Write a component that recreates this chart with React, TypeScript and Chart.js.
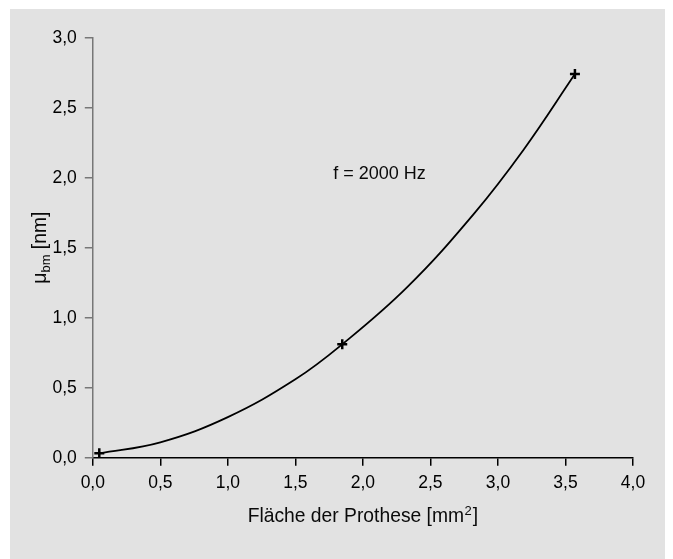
import React, { useEffect, useRef } from "react";
import { Chart, registerables } from "chart.js";

Chart.register(...registerables);

// measured points (+ markers)
const measuredX = [0.048, 1.847, 3.57];
const measuredY = [0.031, 0.81, 2.74];

// fitted curve, values
const curveX = [0.048, 0.5, 1.0, 1.5, 1.847, 2.33, 2.82, 3.19, 3.57];
const curveY = [0.031, 0.11, 0.29, 0.56, 0.81, 1.22, 1.74, 2.2, 2.74];

const xMin = 0;
const xMax = 4;
const yMin = 0;
const yMax = 3;
const tickStep = 0.5;

const xTitleMain = "Fläche der Prothese [mm";
const xTitleSup = "2";
const xTitleEnd = "]";
const yTitleMain = "μ";
const yTitleSub = "bm";
const yTitleEnd = " [nm]";
const annotationText = "f = 2000 Hz";
const annotationX = 1.78;
const annotationY = 1.99;

const FONT = "'Liberation Sans', Arial, Helvetica, sans-serif";
const fmt = (v: number) => v.toFixed(1).replace(".", ",");

const textPlugin = {
  id: "customText",
  afterDraw(chart: any) {
    const ctx = chart.ctx;
    const area = chart.chartArea;
    const xs = chart.scales.x;
    const ys = chart.scales.y;
    ctx.save();
    ctx.fillStyle = "#0a0a0a";
    ctx.textBaseline = "alphabetic";

    // x title
    const big = 19.3;
    const small = 13;
    ctx.font = `${big}px ${FONT}`;
    const w1 = ctx.measureText(xTitleMain).width;
    const w3 = ctx.measureText(xTitleEnd).width;
    ctx.font = `${small}px ${FONT}`;
    const w2 = ctx.measureText(xTitleSup).width;
    const total = w1 + w2 + w3 + 1.5;
    const cx = (area.left + area.right) / 2;
    const by = 513;
    const x0 = cx - total / 2;
    ctx.textAlign = "left";
    ctx.font = `${big}px ${FONT}`;
    ctx.fillText(xTitleMain, x0, by);
    ctx.font = `${small}px ${FONT}`;
    ctx.fillText(xTitleSup, x0 + w1 + 0.5, by - 7.5);
    ctx.font = `${big}px ${FONT}`;
    ctx.fillText(xTitleEnd, x0 + w1 + w2 + 1.5, by);

    // y title (rotated)
    ctx.font = `${big}px ${FONT}`;
    const v1 = ctx.measureText(yTitleMain).width;
    const v3 = ctx.measureText(yTitleEnd).width;
    ctx.font = `${small}px ${FONT}`;
    const v2 = ctx.measureText(yTitleSub).width;
    const vt = v1 + v2 + v3;
    const cy = (area.top + area.bottom) / 2;
    ctx.translate(36, cy);
    ctx.rotate(-Math.PI / 2);
    const s = -vt / 2;
    ctx.font = `${big}px ${FONT}`;
    ctx.fillText(yTitleMain, s, 0);
    ctx.font = `${small}px ${FONT}`;
    ctx.fillText(yTitleSub, s + v1, 4);
    ctx.font = `${big}px ${FONT}`;
    ctx.fillText(yTitleEnd, s + v1 + v2, 0);
    ctx.setTransform(1, 0, 0, 1, 0, 0);
    ctx.restore();

    // annotation
    ctx.save();
    ctx.fillStyle = "#0a0a0a";
    ctx.font = `18px ${FONT}`;
    ctx.textAlign = "left";
    ctx.textBaseline = "alphabetic";
    ctx.fillText(annotationText, xs.getPixelForValue(annotationX), ys.getPixelForValue(annotationY));
    ctx.restore();
  },
};

export default function App() {
  const ref = useRef<HTMLCanvasElement | null>(null);

  useEffect(() => {
    if (!ref.current) return;
    const chart = new Chart(ref.current, {
      type: "scatter",
      data: {
        datasets: [
          {
            type: "line",
            data: curveX.map((x, i) => ({ x, y: curveY[i] })),
            borderColor: "#000",
            borderWidth: 1.8,
            pointRadius: 0,
            tension: 0.4,
            fill: false,
            showLine: true,
          } as any,
          {
            type: "scatter",
            data: measuredX.map((x, i) => ({ x, y: measuredY[i] })),
            pointStyle: "cross",
            pointRadius: 5,
            borderColor: "#000",
            borderWidth: 2.5,
            backgroundColor: "#000",
          } as any,
        ],
      },
      options: {
        animation: false,
        responsive: false,
        maintainAspectRatio: false,
        layout: { padding: { left: 0, right: 40, top: 28.7, bottom: 0 } },
        plugins: { legend: { display: false }, tooltip: { enabled: false } },
        scales: {
          x: {
            type: "linear",
            min: xMin,
            max: xMax,
            afterFit: (s: any) => {
              s.height = 101.3;
            },
            ticks: {
              stepSize: tickStep,
              callback: (v: any) => fmt(Number(v)),
              color: "#000",
              font: { family: FONT, size: 17.5 },
              padding: 7,
              maxRotation: 0,
            },
            grid: {
              drawOnChartArea: false,
              drawTicks: true,
              tickLength: 8,
              color: "#000",
              lineWidth: 1.5,
            },
            border: { display: true, color: "#000", width: 1.5 },
          },
          y: {
            type: "linear",
            min: yMin,
            max: yMax,
            afterFit: (s: any) => {
              s.width = 82.8;
            },
            ticks: {
              stepSize: tickStep,
              callback: (v: any) => fmt(Number(v)),
              color: "#000",
              font: { family: FONT, size: 17.5 },
              padding: 8,
            },
            grid: {
              drawOnChartArea: false,
              drawTicks: true,
              tickLength: 8,
              color: "#777",
              lineWidth: 1.5,
            },
            border: { display: true, color: "#777", width: 1.5 },
          },
        },
      } as any,
      plugins: [textPlugin],
    });
    return () => chart.destroy();
  }, []);

  return (
    <div
      style={{
        marginLeft: 2,
        marginTop: 1,
        width: 663,
        height: 550,
        background: "#e2e2e2",
      }}
    >
      <canvas ref={ref} width={663} height={550} style={{ display: "block" }} />
    </div>
  );
}
